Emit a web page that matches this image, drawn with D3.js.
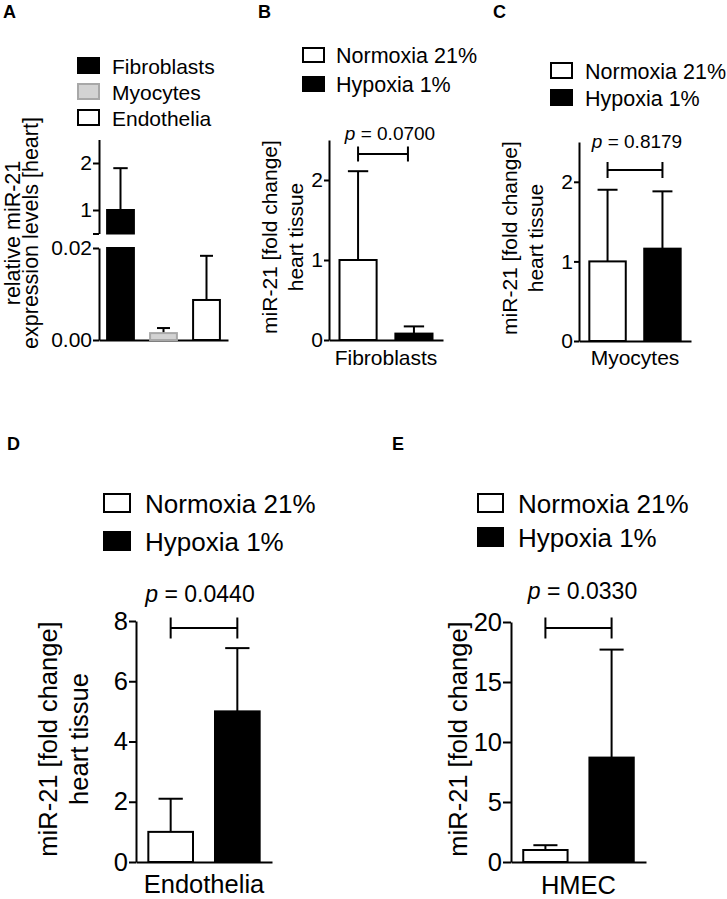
<!DOCTYPE html>
<html>
<head>
<meta charset="utf-8">
<script src="https://cdn.jsdelivr.net/npm/d3@7"></script>
<style>
  html, body { margin: 0; padding: 0; background: #fff; }
  svg { display: block; }
  text { font-family: "Liberation Sans", Arial, Helvetica, sans-serif; fill: #000; }
</style>
</head>
<body>
<svg id="chart" width="727" height="899"></svg>
<script>
// ---------------- DATA ----------------
const cellTypes = ["Fibroblasts", "Myocytes", "Endothelia"];
const panelA_means = [1.0, 0.0015, 0.0087];
const panelA_sd = [0.89, 0.0011, 0.0096];
const panelA_ticksLow = [0, 0.02];
const panelA_ticksHigh = [1, 2];

const conditions = ["Normoxia 21%", "Hypoxia 1%"];
const groupLabels = ["Fibroblasts", "Myocytes", "Endothelia", "HMEC"];

const panelB_means = [1.0, 0.08];
const panelB_sd = [1.11, 0.09];
const panelC_means = [1.0, 1.16];
const panelC_sd = [0.90, 0.72];
const panelD_means = [1.0, 5.0];
const panelD_sd = [1.1, 2.1];
const panelE_means = [1.0, 8.7];
const panelE_sd = [0.4, 9.0];

const pValues = ["0.0700", "0.8179", "0.0440", "0.0330"];

const ticksBC = [0, 1, 2];
const ticksD = [0, 2, 4, 6, 8];
const ticksE = [0, 5, 10, 15, 20];

// ---------------- DRAWING ----------------
const svg = d3.select("#chart");
const SW = 2;

function panelLetter(t, x, y) {
  svg.append("text").attr("x", x).attr("y", y)
    .attr("font-size", 18).attr("font-weight", "bold").text(t);
}

function legend(items, cfg) {
  items.forEach((it, i) => {
    const top = cfg.y0 + i * cfg.step;
    svg.append("rect")
      .attr("x", cfg.x + 1).attr("y", top + 1)
      .attr("width", cfg.w - 2).attr("height", cfg.h - 2)
      .attr("fill", it.fill).attr("stroke", it.stroke).attr("stroke-width", SW);
    svg.append("text")
      .attr("x", cfg.x + cfg.w + cfg.gap).attr("y", top + cfg.h - 0.5)
      .attr("font-size", cfg.fs).text(it.label);
  });
}

function yLabel(lines, xs, yc, fs) {
  lines.forEach((l, i) => {
    svg.append("text")
      .attr("transform", `translate(${xs[i]},${yc}) rotate(-90)`)
      .attr("text-anchor", "middle").attr("font-size", fs).text(l);
  });
}

function styleAxis(g, fs) {
  g.selectAll("path, line").attr("stroke", "#000").attr("stroke-width", SW);
  g.selectAll("text").attr("font-size", fs)
    .attr("font-family", '"Liberation Sans", Arial, sans-serif').attr("fill", "#000");
}

function errorBar(cx, yBase, yTop, capW) {
  svg.append("line").attr("x1", cx).attr("x2", cx).attr("y1", yBase).attr("y2", yTop)
    .attr("stroke", "#000").attr("stroke-width", SW);
  svg.append("line").attr("x1", cx - capW / 2).attr("x2", cx + capW / 2)
    .attr("y1", yTop).attr("y2", yTop).attr("stroke", "#000").attr("stroke-width", SW);
}

// ---------- Panel A ----------
(function () {
  panelLetter("A", 3, 18);
  legend([
    { label: cellTypes[0], fill: "#000", stroke: "#000" },
    { label: cellTypes[1], fill: "#d3d3d3", stroke: "#a8a8a8" },
    { label: cellTypes[2], fill: "#fff", stroke: "#000" }
  ], { x: 77, y0: 57, step: 26, w: 23, h: 17, gap: 12, fs: 21 });

  const axX = 99, axEnd = 228;
  const x = d3.scaleBand().domain(cellTypes).range([axX, axEnd])
    .paddingInner(0.33).paddingOuter(0.165);
  const yLow = d3.scaleLinear().domain([0, 0.02]).range([340, 248]);
  const yHigh = d3.scaleLinear().domain([0.5, 2.5]).range([233.5, 139.5]);

  const gL = svg.append("g").attr("transform", `translate(${axX},0)`)
    .call(d3.axisLeft(yLow).tickValues(panelA_ticksLow).tickFormat(d3.format(".2f"))
      .tickSize(6).tickPadding(1).tickSizeOuter(0));
  styleAxis(gL, 21);
  const gH = svg.append("g").attr("transform", `translate(${axX},0)`)
    .call(d3.axisLeft(yHigh).tickValues([0.5].concat(panelA_ticksHigh))
      .tickFormat(d => d === 0.5 ? "" : d).tickSize(6).tickPadding(1).tickSizeOuter(0));
  styleAxis(gH, 21);
  const gX = svg.append("g").attr("transform", `translate(0,${yLow(0)})`)
    .call(d3.axisBottom(x).tickSize(0).tickFormat(""));
  styleAxis(gX, 21);

  const fills = ["#000", "#d3d3d3", "#fff"];
  const strokes = ["#000", "#a8a8a8", "#000"];
  cellTypes.forEach((c, i) => {
    const v = panelA_means[i], bx = x(c) + 1, bw = x.bandwidth() - 2;
    const cx = x(c) + x.bandwidth() / 2;
    if (v > 0.02) {
      svg.append("rect").attr("x", bx).attr("y", yLow(0.02)).attr("width", bw)
        .attr("height", yLow(0) - yLow(0.02)).attr("fill", fills[i]).attr("stroke", strokes[i]).attr("stroke-width", SW);
      svg.append("rect").attr("x", bx).attr("y", yHigh(v)).attr("width", bw)
        .attr("height", yHigh(0.5) - yHigh(v)).attr("fill", fills[i]).attr("stroke", strokes[i]).attr("stroke-width", SW);
      errorBar(cx, yHigh(v), yHigh(v + panelA_sd[i]), x.bandwidth() * 0.5);
    } else {
      errorBar(cx, yLow(v), yLow(v + panelA_sd[i]), x.bandwidth() * 0.45);
      svg.append("rect").attr("x", bx).attr("y", yLow(v)).attr("width", bw)
        .attr("height", yLow(0) - yLow(v)).attr("fill", fills[i]).attr("stroke", strokes[i]).attr("stroke-width", SW);
    }
  });
  yLabel(["relative miR-21", "expression levels [heart]"], [20, 38], 233, 21.5);
})();

// ---------- Panels B–E ----------
function drawPanel(c) {
  panelLetter(c.letter, c.letterX, c.letterY);
  legend([
    { label: conditions[0], fill: "#fff", stroke: "#000" },
    { label: conditions[1], fill: "#000", stroke: "#000" }
  ], c.legend);

  const x = d3.scaleBand().domain(conditions).range([c.x0, c.x1])
    .paddingInner(0.3).paddingOuter(0.17);
  const y = d3.scaleLinear().domain([0, c.ymax]).range([c.y0, c.yTop]);

  const gY = svg.append("g").attr("transform", `translate(${c.x0},0)`)
    .call(d3.axisLeft(y).tickValues(c.ticks).tickFormat(d3.format("d"))
      .tickSize(c.tickSize).tickPadding(1).tickSizeOuter(0));
  styleAxis(gY, c.fs);
  const gX = svg.append("g").attr("transform", `translate(0,${c.y0})`)
    .call(d3.axisBottom(x).tickSize(0).tickFormat(""));
  styleAxis(gX, c.fs);

  const fills = ["#fff", "#000"];
  conditions.forEach((k, i) => {
    const v = c.means[i];
    const cx = x(k) + x.bandwidth() / 2;
    errorBar(cx, y(v), y(v + c.sd[i]), x.bandwidth() * 0.52);
    svg.append("rect").attr("x", x(k) + 1).attr("y", y(v))
      .attr("width", x.bandwidth() - 2).attr("height", y(0) - y(v))
      .attr("fill", fills[i]).attr("stroke", "#000").attr("stroke-width", SW);
  });

  // significance bracket
  const bx1 = x(conditions[0]) + x.bandwidth() / 2;
  const bx2 = x(conditions[1]) + x.bandwidth() / 2 - (c.bracketInset || 0);
  const by = c.bracketY, bh = c.bracketH;
  svg.append("path")
    .attr("d", `M${bx1},${by - bh}V${by + bh}M${bx1},${by}H${bx2}M${bx2},${by - bh}V${by + bh}`)
    .attr("fill", "none").attr("stroke", "#000").attr("stroke-width", SW);
  const pt = svg.append("text").attr("x", (bx1 + bx2) / 2 + c.pShift).attr("y", c.pY)
    .attr("text-anchor", "middle").attr("font-size", c.pfs);
  pt.append("tspan").attr("font-style", "italic").text("p");
  pt.append("tspan").text(" = " + c.p);

  svg.append("text").attr("x", (c.x0 + c.x1) / 2).attr("y", c.xlabY)
    .attr("text-anchor", "middle").attr("font-size", c.fs).text(c.group);

  yLabel(c.ylab, c.ylabX, c.ylabY, c.fs);
}

drawPanel({
  letter: "B", letterX: 258, letterY: 18,
  legend: { x: 302, y0: 47, step: 29, w: 23, h: 16, gap: 11, fs: 21.5 },
  x0: 329, x1: 443, y0: 340, yTop: 140, ymax: 2.5, ticks: ticksBC, tickSize: 5, fs: 21,
  means: panelB_means, sd: panelB_sd, p: pValues[0], pfs: 19, pY: 140, pShift: 7,
  bracketY: 154, bracketH: 7.5, bracketInset: 6, group: groupLabels[0], xlabY: 365,
  ylab: ["miR-21 [fold change]", "heart tissue"], ylabX: [277, 303], ylabY: 237
});

drawPanel({
  letter: "C", letterX: 493, letterY: 18,
  legend: { x: 550, y0: 62, step: 27, w: 23, h: 17, gap: 12, fs: 21.5 },
  x0: 579, x1: 691, y0: 341, yTop: 142, ymax: 2.5, ticks: ticksBC, tickSize: 5, fs: 21,
  means: panelC_means, sd: panelC_sd, p: pValues[1], pfs: 19, pY: 148, pShift: 2,
  bracketY: 170, bracketH: 8, bracketInset: 0, group: groupLabels[1], xlabY: 365,
  ylab: ["miR-21 [fold change]", "heart tissue"], ylabX: [517, 543], ylabY: 238
});

drawPanel({
  letter: "D", letterX: 7, letterY: 450,
  legend: { x: 103, y0: 493, step: 38, w: 28, h: 20, gap: 14, fs: 26 },
  x0: 136, x1: 272, y0: 862, yTop: 621, ymax: 8, ticks: ticksD, tickSize: 7, fs: 25.5,
  means: panelD_means, sd: panelD_sd, p: pValues[2], pfs: 23, pY: 602, pShift: -4,
  bracketY: 628, bracketH: 10.5, bracketInset: 0, group: groupLabels[2], xlabY: 893,
  ylab: ["miR-21 [fold change]", "heart tissue"], ylabX: [57, 88], ylabY: 739
});

drawPanel({
  letter: "E", letterX: 392, letterY: 450,
  legend: { x: 477, y0: 493, step: 34, w: 27, h: 20, gap: 14, fs: 26 },
  x0: 511, x1: 646, y0: 862, yTop: 622, ymax: 20, ticks: ticksE, tickSize: 8, fs: 25.5,
  means: panelE_means, sd: panelE_sd, p: pValues[3], pfs: 23, pY: 599, pShift: 4,
  bracketY: 628, bracketH: 10.5, bracketInset: 0, group: groupLabels[3], xlabY: 894,
  ylab: ["miR-21 [fold change]"], ylabX: [467], ylabY: 739
});
</script>
</body>
</html>
